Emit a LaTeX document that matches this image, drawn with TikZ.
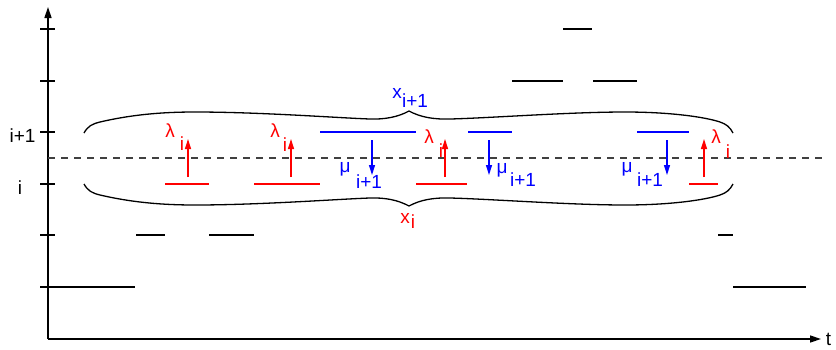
\documentclass[tikz,border=0pt]{standalone}
\usepackage{fontspec}
\setmainfont{Liberation Sans}
\usetikzlibrary{arrows.meta}

\begin{document}
\begin{tikzpicture}[x=1pt, y=-1pt]
    % Define styles
    \tikzstyle{axis} = [line width=1.4pt, -{Triangle[length=11pt, width=7pt]}]
    \tikzstyle{tick} = [line width=1.2pt]
    \tikzstyle{level} = [line width=2.9pt]
    \tikzstyle{uplevel} = [level, draw=blue]
    \tikzstyle{lowlevel} = [level, draw=red]
    \tikzstyle{rate} = [line width=1.4pt, -{Triangle[length=10pt, width=6pt]}]
    \tikzstyle{lbl} = [inner sep=0pt, font=\fontsize{19}{22}\selectfont]
    \tikzstyle{rlbl} = [lbl, text=red]
    \tikzstyle{blbl} = [lbl, text=blue]
    \tikzstyle{brace} = [line width=1.3pt]

    \useasboundingbox (0,0) rectangle (836,349);

    % Axes
    \coordinate (origin) at (48,339);
    \coordinate (ytip) at (48,7);
    \coordinate (xtip) at (821,339);
    \draw[axis] (origin) -- (ytip);
    \draw[axis] (origin) -- (xtip);
    \node[lbl] (tlbl) at (828.5,339.5) {t};

    % Ticks and level names
    \foreach \y in {29,81,132,184,235,287}
        \draw[tick] (40,\y) -- (55,\y);
    \node[lbl] (lvlup) at (22.5,136) {i+1};
    \node[lbl] (lvl) at (20,188) {i};

    % Threshold between the two levels
    \draw[draw=black!75, line width=1.2pt, dash pattern=on 7pt off 6pt] (48,158) -- (822,158);

    % Other levels
    \draw[level] (48,287) -- (135,287);
    \draw[level] (136,235) -- (165,235);
    \draw[level] (209,235) -- (254,235);
    \draw[level] (718,235) -- (733,235);
    \draw[level] (733,287) -- (806,287);
    \draw[level] (512,81) -- (563,81);
    \draw[level] (593,81) -- (637,81);
    \draw[level] (563,29) -- (592,29);

    % Level i
    \draw[lowlevel] (165,184) -- (209,184);
    \draw[lowlevel] (254,184) -- (320,184);
    \draw[lowlevel] (416,184) -- (467,184);
    \draw[lowlevel] (689,184) -- (718,184);

    % Level i+1
    \draw[uplevel] (320,132) -- (416,132);
    \draw[uplevel] (468,132) -- (512,132);
    \draw[uplevel] (637,132) -- (689,132);

    % Upward jumps
    \foreach \x [count=\n] in {188,291,445,704} {
        \coordinate (lam\n a) at (\x,177);
        \coordinate (lam\n b) at (\x,139);
        \draw[rate, red] (lam\n a) -- (lam\n b);
    }

    % Downward jumps
    \foreach \x [count=\n] in {372,489,667} {
        \coordinate (mu\n a) at (\x,140);
        \coordinate (mu\n b) at (\x,175);
        \draw[rate, blue] (mu\n a) -- (mu\n b);
    }

    % Rate labels
    \node[rlbl] (lam1) at (170,131) {λ};
    \node[rlbl] (lam1i) at (182,144) {i};
    \node[rlbl] (lam2) at (275,131) {λ};
    \node[rlbl] (lam2i) at (285,145) {i};
    \node[rlbl] (lam3) at (429,137) {λ};
    \node[rlbl] (lam3i) at (441,151) {i};
    \node[rlbl] (lam4) at (716,137) {λ};
    \node[rlbl] (lam4i) at (728,152) {i};

    \node[blbl] (mu1) at (345,169) {μ};
    \node[blbl] (mu1i) at (369,182) {i+1};
    \node[blbl] (mu2) at (502,170) {μ};
    \node[blbl] (mu2i) at (523,180) {i+1};
    \node[blbl] (mu3) at (627,169) {μ};
    \node[blbl] (mu3i) at (650,180) {i+1};

    % Braces
    \draw[brace] (84,133) .. controls (88,126) and (92,124) .. (100,122)
        .. controls (130,115) and (160,112) .. (195,112)
        .. controls (260,112) and (340,118) .. (370,119)
        .. controls (385,119.5) and (398,117) .. (409,111)
        .. controls (420,117) and (433,119.5) .. (450,119)
        .. controls (490,118) and (570,112) .. (625,112)
        .. controls (670,112) and (705,117) .. (720,122)
        .. controls (726,124) and (730,127) .. (733,133);
    \draw[brace] (84,184) .. controls (88,191) and (92,193) .. (100,195)
        .. controls (130,202) and (160,205) .. (195,205)
        .. controls (260,205) and (340,199) .. (370,198)
        .. controls (385,197.5) and (398,200) .. (409,206)
        .. controls (420,200) and (433,197.5) .. (450,198)
        .. controls (490,199) and (570,205) .. (625,205)
        .. controls (670,205) and (705,200) .. (720,195)
        .. controls (726,193) and (730,190) .. (733,184);

    \node[blbl] (xup) at (397,93) {x};
    \node[blbl] (xupi) at (415,101) {i+1};
    \node[rlbl] (xlow) at (405,218) {x};
    \node[rlbl] (xlowi) at (413,222) {i};

\end{tikzpicture}
\end{document}
